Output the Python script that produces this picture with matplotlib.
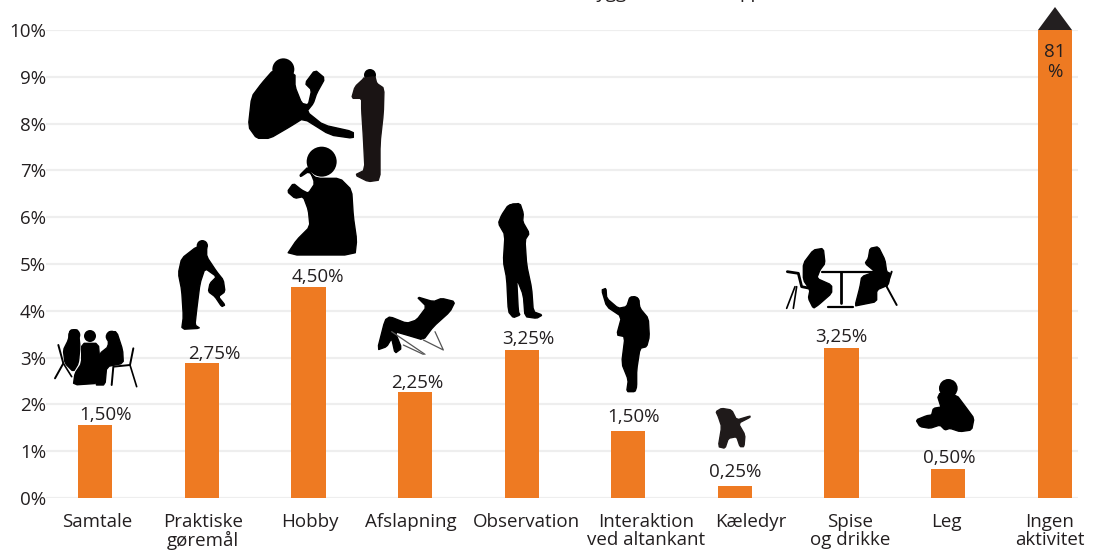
import matplotlib
matplotlib.use('Agg')
import matplotlib.pyplot as plt
from matplotlib.patches import Polygon, Circle

W, H = 1096, 551

categories = ['Samtale', 'Praktiske\ngøremål', 'Hobby', 'Afslapning', 'Observation',
              'Interaktion\nved altankant', 'Kæledyr', 'Spise\nog drikke', 'Leg', 'Ingen\naktivitet']
bar_heights = [1.56, 2.88, 4.51, 2.26, 3.16, 1.43, 0.26, 3.20, 0.62, 10.0]
bar_labels = ['1,50%', '2,75%', '4,50%', '2,25%', '3,25%', '1,50%', '0,25%', '3,25%', '0,50%']
y_ticks = list(range(11))
y_tick_labels = [f'{v}%' for v in y_ticks]

# labels sit off centre in the original, shifts in pixels
cat_shift = [2, 1, 1, -4, 5, 18, 16, 9, -2, -5]
label_shift = [10, 12, 9, 2, 7, 5, 0, 0, 1]
label_lift = [0, 0, 0, 0, 1, 4, 4, 2, 1]

TEXT = '#231f20'
ORANGE = '#ee7a22'
GRID = '#eeeeee'
FS = 13.5

plt.rcParams['font.family'] = ['Open Sans', 'DejaVu Sans']

fig = plt.figure(figsize=(W / 100, H / 100), dpi=100, facecolor='white')
ax = fig.add_axes([46 / W, 1 - 498 / H, (1078 - 46) / W, (498 - 30) / H])
ax.set_xlim(-0.4625, 9.218)
ax.set_ylim(0, 10)
ax.set_axisbelow(True)
ax.grid(axis='y', color=GRID, lw=1.6)
ax.bar(range(len(bar_heights)), bar_heights, width=0.32, color=ORANGE)
for s in ax.spines.values():
    s.set_visible(False)

ax.set_yticks(y_ticks)
ax.set_yticklabels(y_tick_labels, fontsize=FS, color=TEXT)
ax.set_xticks([])
ax.tick_params(axis='both', length=0)
ax.tick_params(axis='y', pad=0)

for i, cat in enumerate(categories):
    ax.annotate(cat, (i, 0), xytext=(cat_shift[i] * 0.72, -10.5), textcoords='offset points',
                ha='center', va='top', fontsize=FS, color=TEXT, linespacing=1.02, annotation_clip=False)
for i, lab in enumerate(bar_labels):
    ax.annotate(lab, (i, bar_heights[i]), xytext=(label_shift[i] * 0.72, 0.5 + label_lift[i] * 0.72),
                textcoords='offset points', ha='center', va='bottom', fontsize=FS, color=TEXT)
ax.text(9, 9.72, '81\n%', ha='center', va='top', fontsize=FS, color=TEXT, linespacing=1.1)

# overlay in picture pixels for the silhouettes
ov = fig.add_axes([0, 0, 1, 1], facecolor='none')
ov.set_xlim(0, W)
ov.set_ylim(H, 0)
ov.axis('off')


def smooth(pts, rounds=1):
    # corner cutting so the silhouettes don't look like polygons
    for _ in range(rounds):
        out = []
        for (x0, y0), (x1, y1) in zip(pts, pts[1:] + pts[:1]):
            out.append((0.85 * x0 + 0.15 * x1, 0.85 * y0 + 0.15 * y1))
            out.append((0.15 * x0 + 0.85 * x1, 0.15 * y0 + 0.85 * y1))
        pts = out
    return pts


def blob(ox, oy, pts, color='black'):
    ov.add_patch(Polygon([(ox + x / 3, oy + y / 3) for x, y in smooth(pts)], closed=True,
                         fc=color, ec=color, lw=1.0, joinstyle='round', clip_on=False))


def head(ox, oy, x, y, r):
    ov.add_patch(Circle((ox + x / 3, oy + y / 3), r / 3, fc='black', ec='none'))


def stick(ox, oy, pts, lw=1.2, color='black'):
    ov.plot([ox + x / 3 for x, y in pts], [oy + y / 3 for x, y in pts],
            color=color, lw=lw, solid_capstyle='round')


# cropped line of text at the very top
ov.text(606, -2, 'bygg', ha='center', va='baseline', fontsize=FS, color=TEXT)
ov.text(751, -2, 'pp', ha='center', va='baseline', fontsize=FS, color=TEXT)

# arrow on the last bar
ov.add_patch(Polygon([(1038, 30), (1072, 30), (1055, 7)], closed=True, fc=TEXT, ec='none'))

# Hobby: reader, standing man, smoker
o = (240, 50)
head(*o, 130, 58, 33)
blob(*o, [(100, 60), (165, 70), (165, 110), (185, 160), (205, 165), (215, 120), (195, 100), (225, 60),
          (255, 85), (230, 130), (220, 160), (200, 185), (250, 225), (340, 245), (340, 265), (270, 255),
          (190, 205), (150, 230), (90, 265), (50, 265), (25, 230), (35, 140), (65, 100)])
head(*o, 390, 75, 18)
blob(*o, [(370, 85), (405, 80), (410, 100), (432, 115), (430, 190), (420, 280), (420, 390), (385, 395),
          (345, 375), (375, 360), (370, 260), (365, 180), (365, 145), (335, 145), (345, 110), (372, 85)],
     color='#1a1414')
head(*o, 245, 335, 45)
blob(*o, [(205, 350), (180, 375), (182, 380), (205, 365), (230, 385), (300, 385), (335, 420), (340, 500),
          (350, 570), (345, 615), (140, 615), (170, 570), (210, 530), (205, 480), (190, 440), (165, 445),
          (142, 425), (160, 400), (185, 420), (205, 430), (225, 400)])

# Samtale: three people at a table
o = (40, 230)
head(*o, 103, 315, 18)
head(*o, 150, 318, 18)
head(*o, 215, 320, 18)
blob(*o, [(90, 300), (115, 300), (120, 350), (115, 400), (100, 425), (75, 400), (70, 360), (85, 330)])
blob(*o, [(125, 340), (175, 340), (180, 400), (175, 460), (100, 465), (105, 430), (125, 400)])
blob(*o, [(205, 305), (230, 305), (248, 360), (250, 400), (200, 410), (195, 465), (165, 465), (175, 400),
          (180, 370), (205, 350)])
stick(*o, [(55, 345), (70, 400), (45, 445)], lw=1.4)
stick(*o, [(70, 400), (95, 440)])
stick(*o, [(280, 355), (270, 405), (220, 410), (215, 465)], lw=1.4)
stick(*o, [(270, 405), (290, 470)])

# Praktiske gøremål: man bending over
head(*o, 487, 47, 17)
blob(*o, [(470, 50), (500, 50), (500, 80), (530, 125), (550, 150), (555, 185), (535, 200), (555, 225),
          (545, 230), (525, 200), (505, 185), (510, 160), (530, 140), (495, 115), (480, 160), (470, 240),
          (465, 285), (480, 295), (425, 298), (430, 260), (425, 180), (415, 130), (425, 85)])

# Afslapning and Observation
o = (370, 195)
blob(*o, [(140, 305), (190, 320), (215, 310), (255, 320), (240, 350), (190, 395), (160, 435), (110, 420),
          (75, 410), (95, 460), (75, 475), (65, 430), (50, 455), (22, 465), (45, 375), (60, 365),
          (110, 385), (140, 375), (170, 335)])
stick(*o, [(65, 410), (165, 478)], lw=0.9, color='#555555')
stick(*o, [(100, 450), (160, 478)], lw=0.9, color='#555555')
stick(*o, [(160, 435), (220, 465), (195, 410)], lw=0.9, color='#555555')
head(*o, 432, 45, 20)
blob(*o, [(415, 30), (450, 25), (460, 55), (458, 80), (478, 115), (465, 135), (470, 210), (485, 280),
          (490, 350), (517, 360), (500, 370), (465, 365), (460, 300), (440, 250), (445, 350), (450, 360),
          (430, 368), (415, 350), (410, 250), (400, 200), (405, 120), (385, 85), (395, 60)])

# Interaktion and Kæledyr
o = (590, 280)
head(*o, 132, 65, 17)
blob(*o, [(35, 30), (48, 25), (50, 55), (85, 85), (110, 80), (120, 50), (145, 55), (150, 85), (175, 115),
          (178, 170), (170, 200), (150, 205), (140, 270), (140, 320), (135, 335), (110, 335), (115, 300),
          (95, 250), (105, 170), (80, 165), (95, 110), (50, 80)])
blob(*o, [(378, 395), (395, 385), (425, 390), (440, 420), (480, 408), (480, 412), (445, 430), (465, 465),
          (462, 500), (450, 500), (440, 470), (415, 475), (405, 505), (385, 500), (395, 440), (385, 410)],
     color='#1f1a1a')

# Spise og drikke
o = (780, 230)
blob(*o, [(100, 60), (130, 55), (135, 100), (120, 120), (110, 145), (155, 165), (155, 190), (115, 225),
          (100, 235), (85, 205), (90, 180), (70, 150), (70, 100)])
stick(*o, [(22, 125), (55, 130), (65, 170), (90, 175)], lw=2)
stick(*o, [(45, 170), (20, 235)])
stick(*o, [(50, 170), (40, 235)])
stick(*o, [(125, 125), (290, 125)], lw=1.6)
stick(*o, [(182, 125), (182, 220)], lw=2)
stick(*o, [(145, 232), (220, 232)], lw=1.6)
blob(*o, [(270, 55), (295, 50), (315, 90), (320, 125), (330, 130), (325, 165), (290, 180), (290, 215),
          (240, 225), (225, 228), (240, 170), (245, 140), (285, 125), (255, 100), (265, 85)])
stick(*o, [(335, 125), (320, 170), (350, 225)], lw=1.4)

# Leg: child with a toy
o = (780, 265)
head(*o, 505, 370, 28)
blob(*o, [(470, 385), (530, 390), (560, 430), (582, 460), (575, 495), (540, 500), (510, 490), (495, 495),
          (480, 480), (450, 490), (420, 485), (408, 465), (440, 452), (455, 450), (460, 430), (490, 425),
          (500, 450), (495, 465)])

fig.savefig('out.png', dpi=100, facecolor='white')
